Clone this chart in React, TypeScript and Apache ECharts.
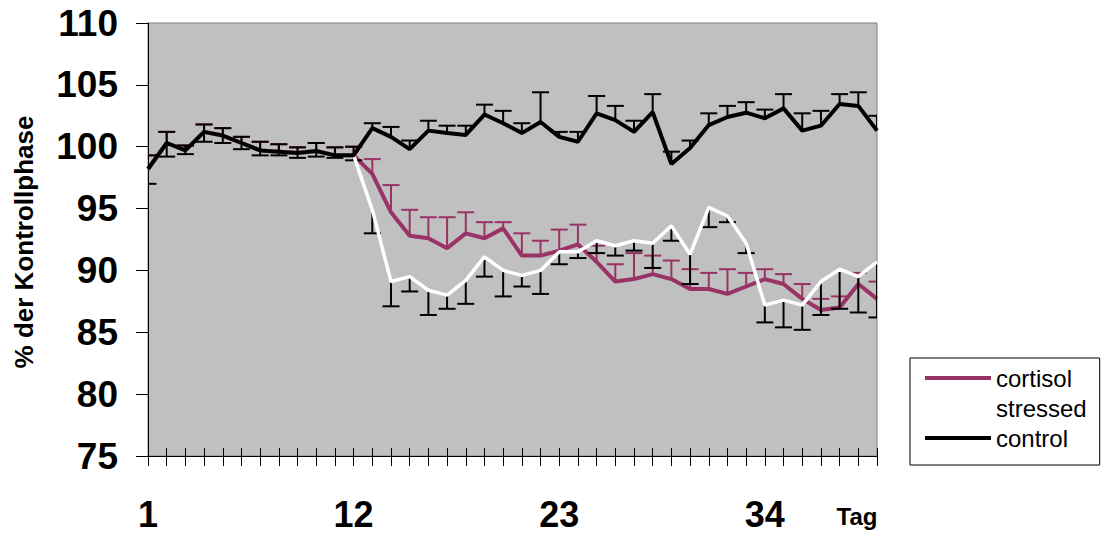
import React, { useEffect, useRef } from "react";
import * as echarts from "echarts";

const days = ["1","2","3","4","5","6","7","8","9","10","11","12","13","14","15","16","17","18","19","20","21","22","23","24","25","26","27","28","29","30","31","32","33","34","35","36","37","38","39","40"];

const controlValues = [98.2,100.3,99.7,101.2,100.9,100.3,99.7,99.6,99.5,99.65,99.3,99.3,101.5,100.8,99.8,101.3,101.1,100.95,102.6,101.9,101.1,102.0,100.8,100.4,102.7,102.15,101.2,102.8,98.6,99.9,101.75,102.4,102.75,102.3,103.1,101.3,101.7,103.45,103.3,101.3];
const controlUpper = [99.3,101.2,100.1,101.8,101.5,100.8,100.4,100.2,99.95,100.3,99.95,100.0,101.9,101.6,100.5,102.1,101.7,101.7,103.4,102.9,101.9,104.4,101.2,101.2,104.1,103.3,102.1,104.25,99.6,100.5,102.7,103.3,103.6,103.0,104.25,102.7,102.9,104.25,104.4,102.5];

const cortisolValues = [98.2,100.3,99.7,101.2,100.9,100.3,99.7,99.6,99.5,99.65,99.3,99.3,97.8,94.7,92.8,92.6,91.8,93.0,92.6,93.4,91.2,91.2,91.6,92.1,90.7,89.1,89.3,89.7,89.3,88.5,88.5,88.1,88.7,89.3,88.9,87.7,86.8,87.0,88.9,87.7];
const cortisolUpper = [99.3,101.2,100.1,101.8,101.5,100.8,100.4,100.2,99.95,100.3,99.95,100.0,99.0,96.9,94.9,94.3,94.3,94.7,93.9,93.9,93.0,92.4,93.3,93.7,92.0,90.5,91.4,91.2,90.8,90.1,89.8,90.1,89.8,90.1,89.7,88.9,87.7,87.9,89.8,89.1];

const stressedValues = [98.2,100.3,99.7,101.2,100.9,100.3,99.7,99.6,99.5,99.65,99.3,99.3,94.9,89.1,89.5,88.4,88.0,89.2,91.1,90.0,89.6,90.0,91.5,91.5,92.4,92.0,92.4,92.2,93.6,91.3,95.1,94.4,92.2,87.2,87.6,87.2,89.1,90.1,89.5,90.7];
const stressedLower = [97.0,99.2,99.4,100.4,100.3,99.8,99.3,99.3,99.1,99.2,99.1,98.9,93.0,87.1,88.3,86.4,86.9,87.3,89.5,87.9,88.7,88.1,90.5,91.0,91.4,91.2,91.6,90.2,92.4,88.9,93.5,93.9,91.4,85.8,85.4,85.2,86.4,86.9,86.6,86.2];

const yTicks = { min: 75, max: 110, step: 5 };
const xLabelEvery = 10;

const FONT = "'Liberation Sans', Arial, sans-serif";
const MAROON = "#993366";

function errData(values: number[], caps: number[]) {
  return values.map((v, i) => [i, v, caps[i]]);
}

function errRender(color: string) {
  return (params: any, api: any) => {
    const x = api.value(0);
    const v = api.value(1);
    const c = api.value(2);
    const p0 = api.coord([x, v]);
    const p1 = api.coord([x, c]);
    const hw = 8.5;
    return {
      type: "group",
      children: [
        { type: "line", shape: { x1: p0[0], y1: p0[1], x2: p1[0], y2: p1[1] }, style: { stroke: color, lineWidth: 2 } },
        { type: "line", shape: { x1: p1[0] - hw, y1: p1[1], x2: p1[0] + hw, y2: p1[1] }, style: { stroke: color, lineWidth: 2 } },
      ],
    };
  };
}

export default function App() {
  const ref = useRef<HTMLDivElement>(null);
  useEffect(() => {
    document.body.style.margin = "0";
    const chart = echarts.init(ref.current!, null, { renderer: "svg" });
    chart.setOption({
      animation: false,
      textStyle: { fontFamily: FONT },
      grid: { left: 148, top: 23, right: 224, bottom: 78, show: true, backgroundColor: "#c0c0c0", borderColor: "#808080", borderWidth: 1 },
      xAxis: [
        {
          type: "category",
          data: days,
          boundaryGap: false,
          axisLine: { show: true, lineStyle: { color: "#000", width: 1 } },
          axisTick: { show: true, interval: 0, length: 10, lineStyle: { color: "#000" } },
          axisLabel: { interval: xLabelEvery, margin: 40, fontSize: 36, fontWeight: "bold", color: "#000", fontFamily: FONT },
          splitLine: { show: false },
        },
        {
          type: "category",
          data: days,
          boundaryGap: false,
          position: "bottom",
          axisLine: { show: false },
          axisTick: { show: true, inside: true, interval: 0, length: 8, lineStyle: { color: "#000" } },
          axisLabel: { show: false },
          splitLine: { show: false },
        },
      ],
      yAxis: {
        type: "value",
        min: yTicks.min,
        max: yTicks.max,
        interval: yTicks.step,
        axisLine: { show: true, lineStyle: { color: "#000", width: 1 } },
        axisTick: { show: true, length: 12, lineStyle: { color: "#000" } },
        axisLabel: { fontSize: 37, fontWeight: "bold", margin: 30, color: "#000", fontFamily: FONT },
        splitLine: { show: false },
      },
      legend: {
        data: ["cortisol", "stressed", "control"],
        orient: "vertical",
        left: 910,
        top: 358,
        icon: "rect",
        itemWidth: 66,
        itemHeight: 4,
        itemGap: 6,
        padding: [8, 13, 15, 15],
        borderColor: "#000",
        borderWidth: 1,
        backgroundColor: "#fff",
        textStyle: { fontSize: 24, color: "#000", fontFamily: FONT },
      },
      graphic: [
        {
          type: "text",
          x: 24,
          y: 242,
          rotation: Math.PI / 2,
          style: { text: "% der Kontrollphase", fontSize: 26, fontWeight: "bold", fill: "#000", align: "center", verticalAlign: "middle", fontFamily: FONT },
        },
        {
          type: "text",
          x: 857,
          y: 516,
          style: { text: "Tag", fontSize: 24, fontWeight: "bold", fill: "#000", align: "center", verticalAlign: "middle", fontFamily: FONT },
        },
      ],
      series: [
        { name: "cortisol-err", type: "custom", z: 2, clip: true, renderItem: errRender(MAROON), data: errData(cortisolValues, cortisolUpper), encode: { x: 0, y: [1, 2] } },
        { name: "cortisol", type: "line", z: 3, data: cortisolValues, symbol: "none", color: MAROON, lineStyle: { color: MAROON, width: 4 } },
        { name: "stressed-err", type: "custom", z: 4, clip: true, renderItem: errRender("#000"), data: errData(stressedValues, stressedLower), encode: { x: 0, y: [1, 2] } },
        { name: "stressed", type: "line", z: 5, data: stressedValues, symbol: "none", color: "#ffffff", lineStyle: { color: "#ffffff", width: 3.5 } },
        { name: "control-err", type: "custom", z: 6, clip: true, renderItem: errRender("#000"), data: errData(controlValues, controlUpper), encode: { x: 0, y: [1, 2] } },
        { name: "control", type: "line", z: 7, data: controlValues, symbol: "none", color: "#000", lineStyle: { color: "#000", width: 4 } },
      ],
    });
    return () => chart.dispose();
  }, []);
  return <div ref={ref} style={{ width: 1101, height: 534 }} />;
}
